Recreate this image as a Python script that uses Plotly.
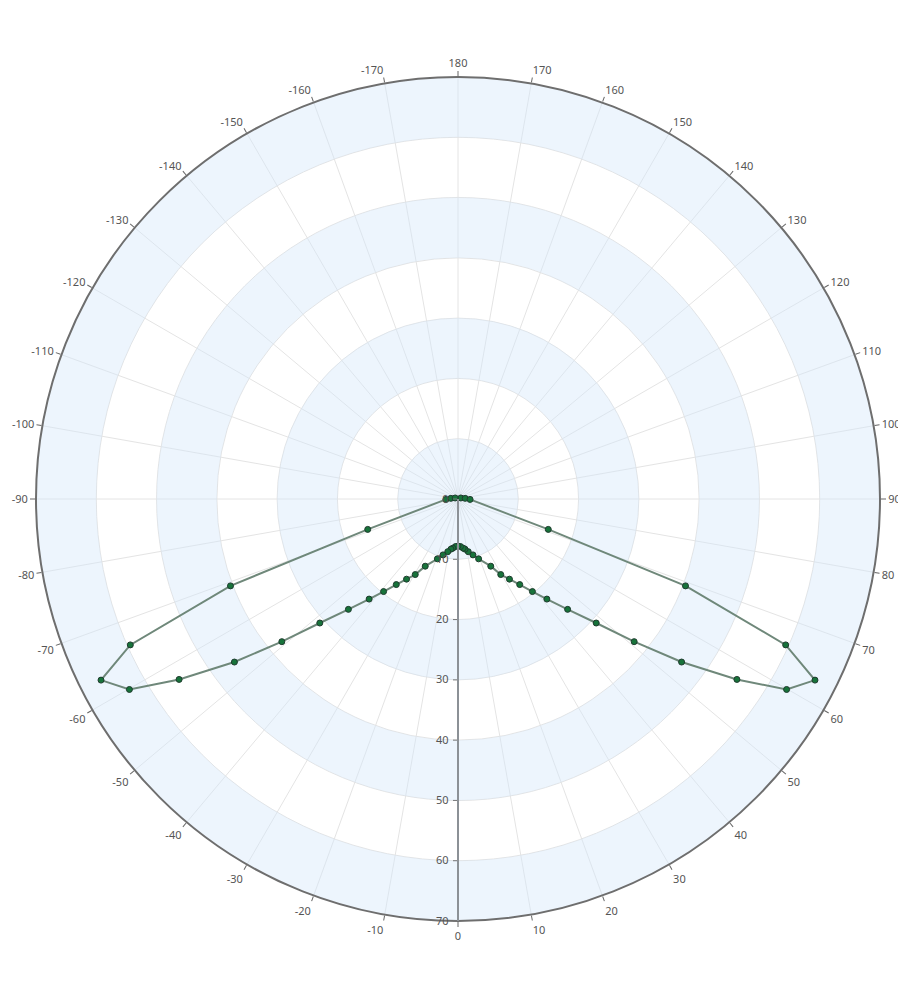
import plotly.graph_objects as go

# angle (deg, 0 = bottom) and radius of the measured curve, right half then left half
theta_right = [110, 95, 88, 71.4, 69.1, 66.0, 63.1, 59.9, 57.1, 53.9, 51.0, 48.1, 44.8,
               41.6, 38.8, 35.8, 32.7, 29.5, 26.0, 19.0, 15.0, 11.0, 8.0, 6.0, 3.0]
r_right = [0.5, 1.2, 2.0, 15.8, 40.4, 59.5, 66.4, 63.0, 55.1, 45.9, 37.6, 30.8, 25.8,
           22.2, 19.7, 17.5, 15.8, 14.4, 12.4, 10.5, 9.6, 8.9, 8.4, 8.2, 7.9]
theta_apex = [0]
r_apex = [7.8]
theta_left = [-3.0, -6.0, -8.0, -11.0, -15.0, -19.0, -26.0, -29.5, -32.7, -35.8, -38.8,
              -41.6, -44.8, -48.1, -51.0, -53.9, -57.1, -59.9, -63.1, -66.0, -69.1,
              -71.4, -88, -95, -110]
r_left = [7.9, 8.2, 8.4, 8.9, 9.6, 10.5, 12.4, 14.4, 15.8, 17.5, 19.7,
          22.2, 25.8, 30.8, 37.6, 45.9, 55.1, 63.0, 66.4, 59.5, 40.4,
          15.8, 2.0, 1.2, 0.5]

# background rings
band_base = [0, 20, 40, 60]
band_depth = [10, 10, 10, 10]

# angular ticks
tick_vals = list(range(0, 360, 10))
tick_text = [str(v) if v <= 180 else str(v - 360) for v in tick_vals]

fig = go.Figure()

fig.add_trace(go.Barpolar(
    r=band_depth,
    base=band_base,
    theta=[180] * len(band_base),
    width=[360] * len(band_base),
    marker=dict(color='rgba(212,231,250,0.42)', line_width=0),
    hoverinfo='skip',
    showlegend=False,
))

fig.add_trace(go.Scatterpolar(
    r=r_right + r_apex + r_left,
    theta=theta_right + theta_apex + theta_left,
    mode='lines+markers',
    line=dict(color='#6f887a', width=2),
    marker=dict(size=6, color='#17733a', line=dict(color='#1f3b2e', width=1)),
    showlegend=False,
))

fig.update_layout(
    width=906,
    height=990,
    paper_bgcolor='white',
    margin=dict(l=28, r=34, t=69, b=77),
    font=dict(family='Noto Sans', size=11, color='#555555'),
    polar=dict(
        bgcolor='white',
        barmode='overlay',
        angularaxis=dict(
            rotation=-90,
            direction='counterclockwise',
            tickmode='array',
            tickvals=tick_vals,
            ticktext=tick_text,
            ticks='outside',
            ticklen=5,
            tickcolor='#666666',
            showline=True,
            linecolor='#6e6e6e',
            linewidth=2,
            gridcolor='#e4e4e4',
            tickfont=dict(size=11, color='#555555'),
        ),
        radialaxis=dict(
            range=[0, 70],
            dtick=10,
            angle=-90,
            tickangle=-90,
            side='clockwise',
            ticks='outside',
            ticklen=4,
            tickcolor='#777777',
            showline=True,
            linecolor='#8c9196',
            linewidth=2,
            gridcolor='#e4e4e4',
            tickfont=dict(size=11, color='#555555'),
        ),
    ),
)

fig.write_html("out.html")
